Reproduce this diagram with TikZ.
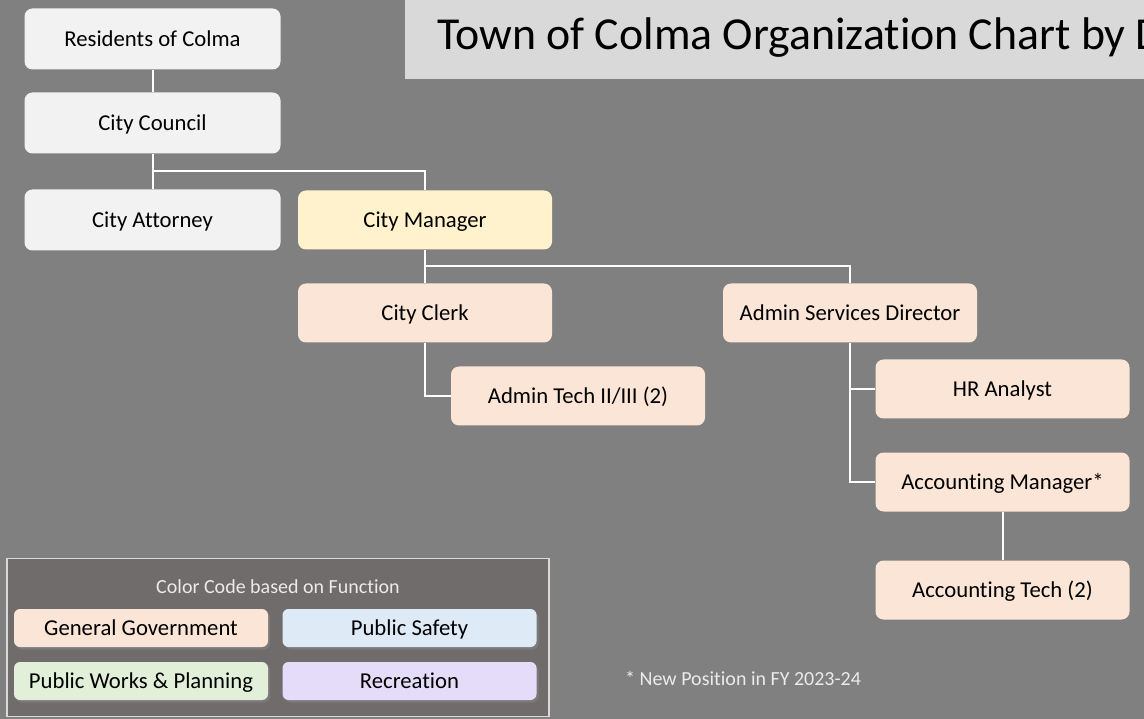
\documentclass[tikz,border=0pt]{standalone}
\usepackage{fontspec}
\setmainfont{Carlito}[Ligatures={NoCommon}]
\usetikzlibrary{shadows,calc}
\definecolor{bggray}{RGB}{128,128,128}
\definecolor{titlebg}{RGB}{217,217,217}
\definecolor{govwhite}{RGB}{242,242,242}
\definecolor{mgryellow}{RGB}{255,242,204}
\definecolor{peach}{RGB}{251,229,214}
\definecolor{safeblue}{RGB}{222,235,247}
\definecolor{worksgreen}{RGB}{226,240,217}
\definecolor{reclav}{RGB}{228,220,248}
\definecolor{legbg}{RGB}{112,108,108}
\definecolor{lighttext}{RGB}{235,235,235}
\tikzset{
  orgbox/.style={rounded corners=8pt, minimum width=256pt, minimum height=61pt,
    inner sep=0pt, font=\fontsize{22.7}{27}\selectfont, text=black,
    text height=14.8pt, text depth=0pt,
    drop shadow={opacity=0.7, shadow xshift=2.5pt, shadow yshift=-3pt}},
  smallbox/.style={orgbox, minimum width=254pt, minimum height=59pt},
  legbox/.style={rounded corners=6pt, minimum width=254pt, minimum height=38pt,
    inner sep=0pt, font=\fontsize{22.7}{27}\selectfont, text=black,
    text height=14.8pt, text depth=0pt,
    drop shadow={opacity=0.7, shadow xshift=2pt, shadow yshift=-2.5pt}},
  lighttxt/.style={font=\fontsize{20}{24}\selectfont, text=lighttext, inner sep=0pt,
    text height=12.9pt, text depth=0pt},
  conn/.style={draw=white, line width=2pt}
}
\begin{document}
\begin{tikzpicture}[x=1pt,y=-1pt]
\fill[bggray] (0,0) rectangle (1144,719);
\useasboundingbox (0,0) rectangle (1144,719);
\begin{scope}
\clip (0,0) rectangle (1144,719);
% title
\fill[titlebg] (405,-5) rectangle (1150,79);
\node[anchor=base west, inner sep=0pt, font=\fontsize{45.8}{50}\selectfont, text=black] (title) at (437,50) {Town of Colma Organization Chart by Department};
\end{scope}

% nodes
\node[orgbox, fill=govwhite, drop shadow={opacity=0}] (residents) at (152.5,39) {Residents of Colma};
\node[orgbox, fill=govwhite, drop shadow={opacity=0}] (council) at (152.5,123) {City Council};
\node[orgbox, fill=govwhite, drop shadow={opacity=0}] (attorney) at (152.5,220) {City Attorney};
\node[smallbox, fill=mgryellow] (manager) at (425,220) {City Manager};
\node[smallbox, fill=peach] (clerk) at (425,313) {City Clerk};
\node[smallbox, fill=peach] (admintech) at (578,396) {Admin Tech II/III (2)};
\node[smallbox, fill=peach] (asd) at (850,313) {Admin Services Director};
\node[smallbox, fill=peach] (hr) at (1002.5,389) {HR Analyst};
\node[smallbox, fill=peach] (acctmgr) at (1002.5,482) {Accounting Manager*};
\node[smallbox, fill=peach] (accttech) at (1002.5,590) {Accounting Tech (2)};

% connectors
\draw[conn] (residents.south) -- (council.north);
\draw[conn] (council.south) -- (attorney.north);
\draw[conn] (council.south) -- ++(0,17) -| (manager.north);
\draw[conn] (manager.south) -- (clerk.north);
\draw[conn] (manager.south) -- ++(0,16) -| (asd.north);
\draw[conn] (clerk.south) |- (admintech.west);
\draw[conn] (asd.south) |- (hr.west);
\draw[conn] (asd.south) |- (acctmgr.west);
\draw[conn] (acctmgr.south) -- (accttech.north);

% legend
\node[draw=titlebg, line width=1.5pt, fill=legbg, minimum width=542pt, minimum height=158pt, inner sep=0pt] (legend) at (278,637.5) {};
\node[lighttxt] (legtitle) at (278,587) {Color Code based on Function};
\node[legbox, fill=peach] (leggov) at (141,628) {General Government};
\node[legbox, fill=safeblue] (legsafe) at (409.5,628) {Public Safety};
\node[legbox, fill=worksgreen] (legworks) at (141,681) {Public Works \& Planning};
\node[legbox, fill=reclav] (legrec) at (409.5,681) {Recreation};

% footnote
\node[lighttxt, anchor=west] (note) at (625,679) {* New Position in FY 2023-24};
\end{tikzpicture}
\end{document}
